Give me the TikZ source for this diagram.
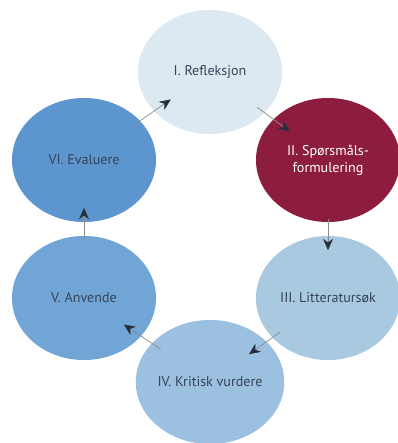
\documentclass[tikz,border=0pt]{standalone}
\usepackage{fontspec}
\setsansfont{PT Sans}
\usetikzlibrary{arrows.meta,shapes.geometric}
\definecolor{fase1}{HTML}{DCE9F1}
\definecolor{fase2}{HTML}{8C1D3F}
\definecolor{fase3}{HTML}{A9C9E0}
\definecolor{fase4}{HTML}{9BC0E0}
\definecolor{fase5}{HTML}{70A5D6}
\definecolor{fase6}{HTML}{5D95CF}
\definecolor{tekst}{HTML}{34445A}
\definecolor{strek}{HTML}{8C8C8C}
\definecolor{spiss}{HTML}{26303C}

\begin{document}
\begin{tikzpicture}[x=.025cm,y=-.025cm,
	fase/.style={ellipse,minimum width=3.6cm,minimum height=3.1cm,inner sep=0pt,
		align=center,text=tekst,font=\sffamily\fontsize{10}{12}\selectfont},
	pil/.style={draw=strek,line width=.5pt,shorten <=42pt,shorten >=34pt,
		-{Stealth[length=8pt,width=7pt,inset=2.5pt,color=spiss,fill=spiss]}}]
	\useasboundingbox[fill=white] (0,0) rectangle (398,443);
	%sirkler
	\node[fase,fill=fase1] (i) at (210,72) {I. Refleksjon};
	\node[fase,fill=fase2,text=white] (ii) at (328,160) {II. Spørsmåls-\\formulering};
	\node[fase,fill=fase3] (iii) at (328,298) {III. Litteratursøk};
	\node[fase,fill=fase4] (iv) at (210,382) {IV. Kritisk vurdere};
	\node[fase,fill=fase5] (v) at (84,298) {V. Anvende};
	\node[fase,fill=fase6] (vi) at (84,160) {VI. Evaluere};
	%piler
	\draw[pil] (i.center) -- (ii.center);
	\draw[pil] (ii.center) -- (iii.center);
	\draw[pil] (iii.center) -- (iv.center);
	\draw[pil] (iv.center) -- (v.center);
	\draw[pil] (v.center) -- (vi.center);
	\draw[pil] (vi.center) -- (i.center);
\end{tikzpicture}
\end{document}
